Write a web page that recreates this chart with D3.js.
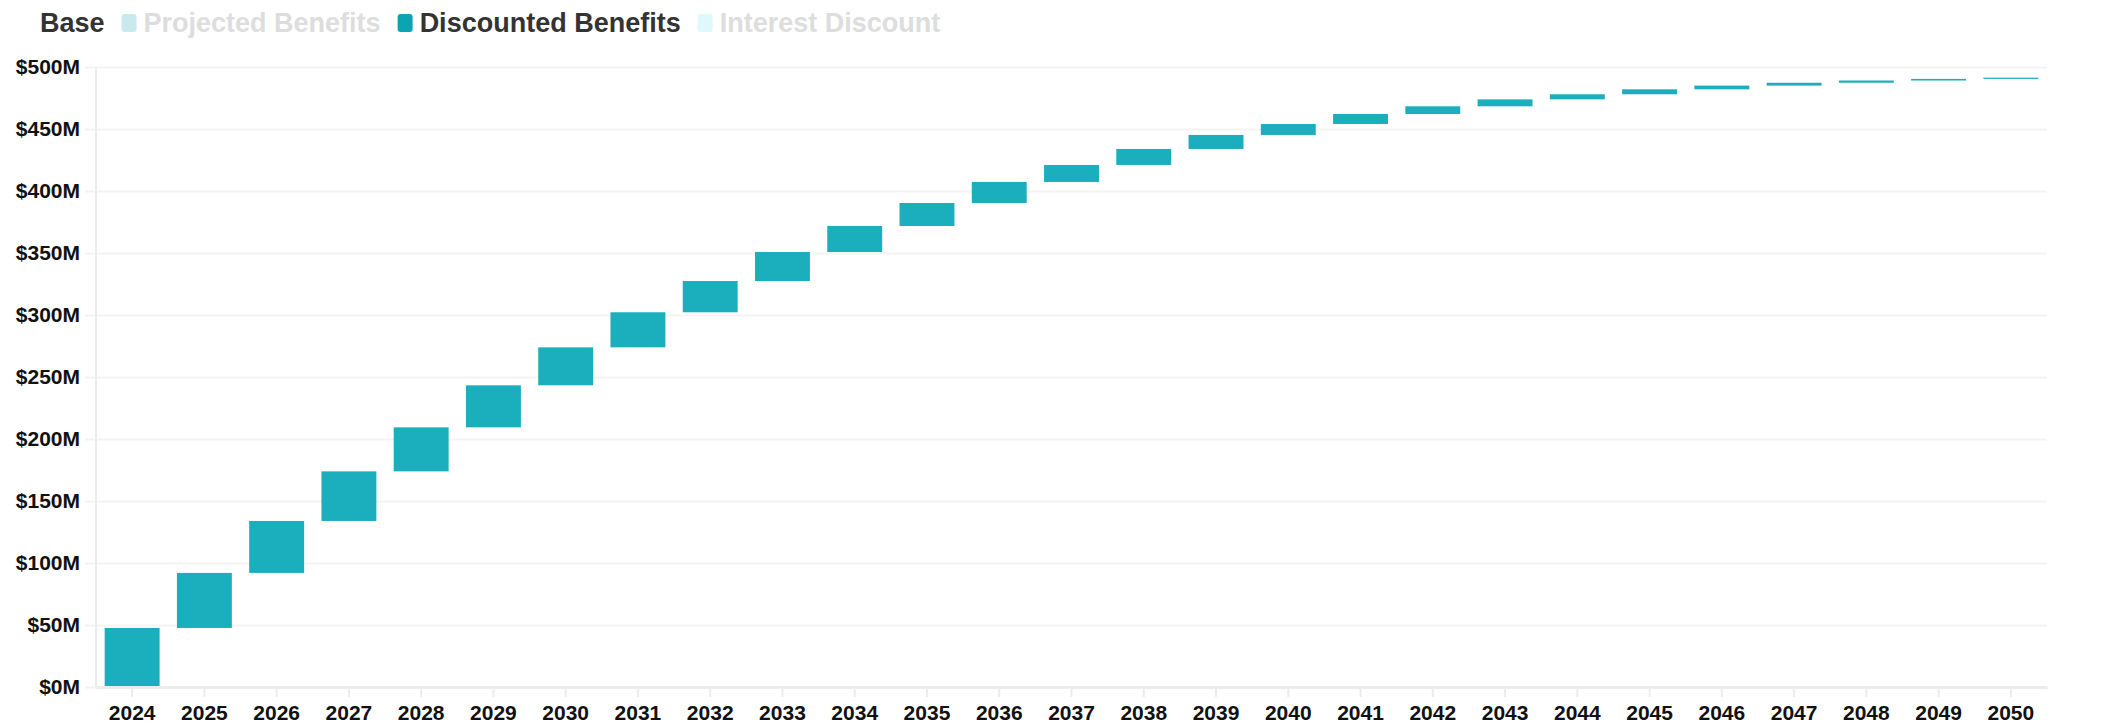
<!DOCTYPE html>
<html>
<head>
<meta charset="utf-8">
<script src="https://cdn.jsdelivr.net/npm/d3@7"></script>
<style>
  body { margin: 0; background: #fff; }
  svg { display: block; font-family: "Liberation Sans", Arial, sans-serif; }
</style>
</head>
<body>
<script>
// years on the x axis
const years = ["2024","2025","2026","2027","2028","2029","2030","2031","2032","2033","2034","2035","2036",
  "2037","2038","2039","2040","2041","2042","2043","2044","2045","2046","2047","2048","2049","2050"];

// invisible stack base ($M) - where each waterfall step starts
const base = [0, 47.6, 92.0, 133.9, 173.9, 209.4, 243.3, 273.9, 302.2, 327.4, 350.8, 371.8, 390.3,
  407.3, 421.0, 433.9, 445.2, 454.0, 462.1, 468.3, 473.9, 478.0, 482.0, 485.0, 487.3, 489.1, 490.4];

// discounted benefits ($M) for each year
const discounted = [47.6, 44.4, 41.9, 40.0, 35.5, 33.9, 30.6, 28.3, 25.2, 23.4, 21.0, 18.5, 17.0,
  13.7, 12.9, 11.3, 8.8, 8.1, 6.2, 5.6, 4.1, 4.0, 3.0, 2.3, 1.8, 1.3, 1.0];

const yTicks = [0, 50, 100, 150, 200, 250, 300, 350, 400, 450, 500];

const legendItems = [
  { name: "Base", swatch: null, active: true },
  { name: "Projected Benefits", swatch: "#c8eaee", active: false },
  { name: "Discounted Benefits", swatch: "#0aa4b2", active: true },
  { name: "Interest Discount", swatch: "#dff8fb", active: false }
];

const width = 2102, height = 726;
const margin = { left: 96, right: 55, top: 67, bottom: 39 };

const svg = d3.select("body").append("svg")
  .attr("width", width)
  .attr("height", height);

const x = d3.scaleBand()
  .domain(years)
  .range([margin.left, width - margin.right])
  .paddingInner(0.24)
  .paddingOuter(0.12);

const y = d3.scaleLinear()
  .domain([0, 500])
  .range([height - margin.bottom, margin.top]);

// gridlines + y labels
const yAxis = svg.append("g")
  .attr("transform", `translate(${margin.left},0)`)
  .call(d3.axisLeft(y).tickValues(yTicks).tickSize(11).tickPadding(5).tickFormat(d => "$" + d + "M"));
yAxis.select(".domain").remove();
yAxis.selectAll(".tick line")
  .attr("x2", width - margin.right - margin.left)
  .attr("x1", -11)
  .attr("stroke", "#f3f3f3")
  .attr("stroke-width", 2);
yAxis.selectAll(".tick text")
  .attr("fill", "#111")
  .attr("font-size", 21)
  .attr("font-weight", "bold")
  .attr("font-family", "Liberation Sans, Arial, sans-serif");

// vertical axis line
svg.append("line")
  .attr("x1", margin.left).attr("x2", margin.left)
  .attr("y1", margin.top).attr("y2", y(0))
  .attr("stroke", "#ececec")
  .attr("stroke-width", 2);

// bars (base series is transparent, only discounted shown)
svg.append("g")
  .selectAll("rect")
  .data(years)
  .enter().append("rect")
  .attr("x", d => x(d))
  .attr("width", x.bandwidth())
  .attr("y", (d, i) => y(base[i] + discounted[i]))
  .attr("height", (d, i) => y(base[i]) - y(base[i] + discounted[i]))
  .attr("fill", "#1baebd");

// x axis
const xAxis = svg.append("g")
  .attr("transform", `translate(0,${y(0)})`)
  .call(d3.axisBottom(x).tickSize(10).tickPadding(8).tickSizeOuter(0));
xAxis.select(".domain")
  .attr("stroke", "#ececec")
  .attr("stroke-width", 3);
xAxis.selectAll(".tick line")
  .attr("stroke", "#ececec")
  .attr("stroke-width", 2);
xAxis.selectAll(".tick text")
  .attr("fill", "#111")
  .attr("font-size", 21)
  .attr("font-weight", "bold")
  .attr("font-family", "Liberation Sans, Arial, sans-serif");

// legend
const legend = svg.append("g").attr("transform", "translate(40,23)");
let lx = 0;
legendItems.forEach(item => {
  if (item.swatch) {
    legend.append("rect")
      .attr("x", lx).attr("y", -9)
      .attr("width", 15).attr("height", 18)
      .attr("rx", 3)
      .attr("fill", item.swatch);
    lx += 22;
  }
  const t = legend.append("text")
    .attr("x", lx)
    .attr("y", 0)
    .attr("dy", "0.35em")
    .attr("font-size", 27)
    .attr("font-weight", "bold")
    .attr("fill", item.active ? "#333" : "#ddd")
    .text(item.name);
  lx += t.node().getComputedTextLength() + 17;
});
</script>
</body>
</html>
